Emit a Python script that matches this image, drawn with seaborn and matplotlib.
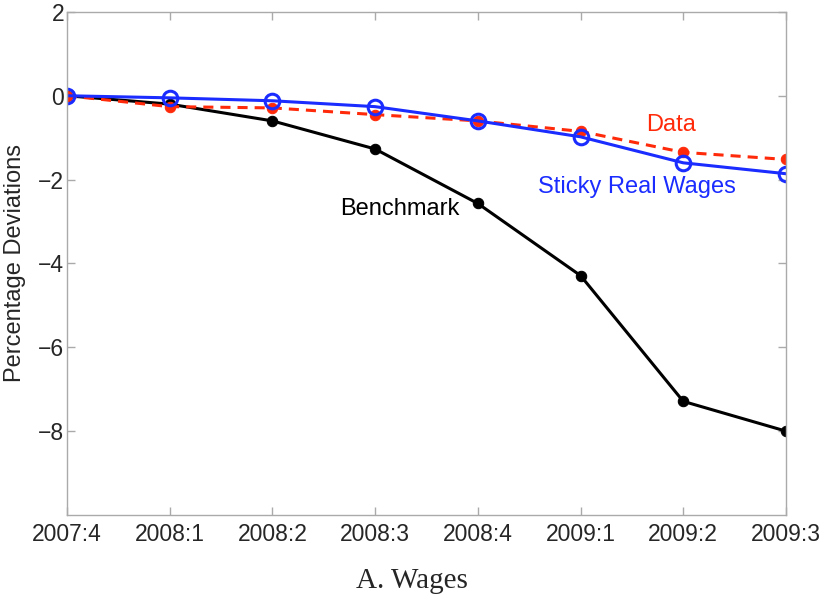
import numpy as np
import pandas as pd
import seaborn as sns
import matplotlib.pyplot as plt

# Quarters and series (percentage deviations)
quarters = ["2007:4", "2008:1", "2008:2", "2008:3", "2008:4", "2009:1", "2009:2", "2009:3"]
benchmark = [0.0, -0.2, -0.6, -1.27, -2.57, -4.29, -7.29, -8.0]
data_vals = [0.0, -0.26, -0.29, -0.45, -0.6, -0.85, -1.35, -1.52]
sticky = [0.0, -0.05, -0.12, -0.26, -0.6, -0.98, -1.6, -1.86]

df = pd.DataFrame({
    "q": np.arange(len(quarters)),
    "Benchmark": benchmark,
    "Data": data_vals,
    "Sticky": sticky,
})

sns.set_style("ticks")
plt.rcParams["font.family"] = ["Liberation Sans", "DejaVu Sans"]

red = "#ff2a0a"
blue = "#1a2cff"

fig = plt.figure(figsize=(8.23, 5.95), dpi=100)
ax = fig.add_axes([0.0814, 0.1345, 0.8736, 0.8455])

sns.lineplot(data=df, x="q", y="Benchmark", ax=ax, color="black", lw=2.2,
             marker="o", markersize=7.5, markeredgecolor="black")
sns.lineplot(data=df, x="q", y="Data", ax=ax, color=red, lw=2.2,
             linestyle=(0, (3.3, 2.3)), marker="o", markersize=7.5,
             markeredgecolor=red)
sns.lineplot(data=df, x="q", y="Sticky", ax=ax, color=blue, lw=2.2,
             marker="o", markersize=10.5, markerfacecolor="none",
             markeredgecolor=blue, markeredgewidth=2.2)

ax.set_xlim(0, len(quarters) - 1)
ax.set_ylim(-10, 2)
ax.set_xticks(df["q"])
ax.set_xticklabels(quarters)
ax.set_yticks([2, 0, -2, -4, -6, -8])
ax.set_yticklabels(["2", "0", "\u22122", "\u22124", "\u22126", "\u22128"])
ax.set_xlabel("")
ax.set_ylabel("Percentage Deviations", fontsize=17)
ax.yaxis.set_label_coords(-0.057, 0.5)

ax.tick_params(direction="in", length=6, width=1, color="#aaaaaa",
               labelsize=16.5, top=True, right=True)
ax.tick_params(axis="x", pad=6)
ax.tick_params(axis="y", pad=2)
for s in ax.spines.values():
    s.set_color("#aaaaaa")
    s.set_linewidth(1)
    s.set_visible(True)

ax.text(5.88, -0.69, "Data", color=red, fontsize=17, ha="center", va="center")
ax.text(5.55, -2.17, "Sticky Real Wages", color=blue, fontsize=17, ha="center", va="center")
ax.text(3.24, -2.71, "Benchmark", color="black", fontsize=17, ha="center", va="center")

fig.text(0.5, 0.012, "A. Wages", family="Liberation Serif", fontsize=21,
         ha="center", va="baseline")

fig.savefig("out.png", dpi=100)
